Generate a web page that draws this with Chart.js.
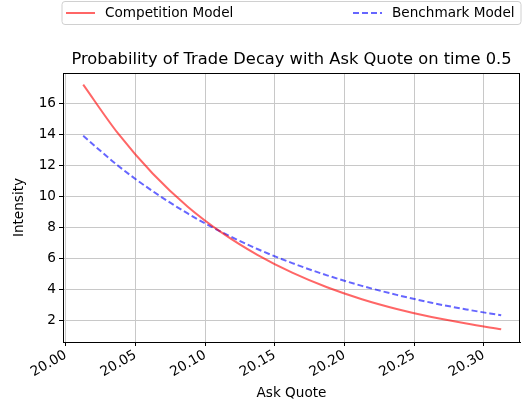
<!DOCTYPE html>
<html>
<head>
<meta charset="utf-8">
<script src="https://cdn.jsdelivr.net/npm/chart.js@4"></script>
<style>
  html, body { margin: 0; padding: 0; background: #fff; }
  #wrap { width: 522px; height: 410px; position: relative; }
</style>
</head>
<body>
<div id="wrap"><canvas id="chart"></canvas></div>
<script>
// values
var askQuote = [20.0125, 20.0375, 20.0625, 20.0875, 20.1125, 20.1375, 20.1625,
                20.1875, 20.2125, 20.2375, 20.2625, 20.2875, 20.3125];
var competition = [17.20, 14.05, 11.45, 9.33, 7.62, 6.22, 5.07, 4.13, 3.36, 2.73, 2.21, 1.79, 1.42];
var benchmark = [13.90, 11.97, 10.32, 8.89, 7.66, 6.60, 5.69, 4.90, 4.22, 3.64, 3.13, 2.70, 2.32];
var xTicks = [20.00, 20.05, 20.10, 20.15, 20.20, 20.25, 20.30];
var yTicks = [2, 4, 6, 8, 10, 12, 14, 16];

var titleText = 'Probability of Trade Decay with Ask Quote on time 0.5';
var seriesNames = ['Competition Model', 'Benchmark Model'];
var FONT = '"DejaVu Sans", sans-serif';
var FS = 13.6;

function pts(ys) {
  return askQuote.map(function (x, i) { return { x: x, y: ys[i] }; });
}

// legend, title and top/right spines drawn by hand like matplotlib
var decor = {
  id: 'decor',
  afterDraw: function (chart) {
    var c = chart.ctx, a = chart.chartArea;
    c.save();
    // spines
    c.strokeStyle = '#000';
    c.lineWidth = 1;
    c.strokeRect(a.left + 0.5, a.top + 0.5, a.right - a.left - 1, a.bottom - a.top);
    // title
    c.fillStyle = '#000';
    c.font = '16.3px ' + FONT;
    c.textAlign = 'center';
    c.textBaseline = 'alphabetic';
    c.fillText(titleText, (a.left + a.right) / 2, a.top - 9);
    // legend box
    var lx = a.left - 1, ly = 1.5, lw = a.right - a.left + 2, lh = 23;
    c.beginPath();
    c.roundRect(lx, ly, lw, lh, 3);
    c.fillStyle = 'rgba(255,255,255,0.8)';
    c.fill();
    c.strokeStyle = '#d0d0d0';
    c.stroke();
    c.font = FS + 'px ' + FONT;
    c.textAlign = 'left';
    c.textBaseline = 'middle';
    var my = ly + lh / 2;
    // red entry
    c.strokeStyle = 'rgba(255,0,0,0.6)';
    c.lineWidth = 2;
    c.beginPath(); c.moveTo(66, my); c.lineTo(95, my); c.stroke();
    c.fillStyle = '#000';
    c.fillText(seriesNames[0], 105, my);
    // blue entry
    c.strokeStyle = 'rgba(0,0,255,0.6)';
    c.setLineDash([6, 3]);
    c.beginPath(); c.moveTo(353, my); c.lineTo(382, my); c.stroke();
    c.setLineDash([]);
    c.fillText(seriesNames[1], 392, my);
    c.restore();
  }
};

var ctx = document.getElementById('chart').getContext('2d');
var myChart = new Chart(ctx, {
  type: 'line',
  data: {
    datasets: [
      {
        label: seriesNames[0],
        data: pts(competition),
        borderColor: 'rgba(255,0,0,0.6)',
        borderWidth: 2,
        pointRadius: 0,
        cubicInterpolationMode: 'monotone',
        fill: false
      },
      {
        label: seriesNames[1],
        data: pts(benchmark),
        borderColor: 'rgba(0,0,255,0.6)',
        borderWidth: 2,
        borderDash: [6, 3],
        pointRadius: 0,
        cubicInterpolationMode: 'monotone',
        fill: false
      }
    ]
  },
  options: {
    responsive: true,
    maintainAspectRatio: false,
    animation: false,
    layout: { padding: { top: 73, right: 2, left: 0, bottom: 0 } },
    plugins: {
      legend: { display: false },
      title: { display: false },
      tooltip: { enabled: false }
    },
    scales: {
      x: {
        type: 'linear',
        min: 19.998,
        max: 20.326,
        afterBuildTicks: function (s) { s.ticks = xTicks.map(function (v) { return { value: v }; }); },
        afterFit: function (s) { s.height = 68; },
        grid: { color: '#c8c8c8', tickColor: '#000', tickLength: 4 },
        border: { color: '#000' },
        ticks: {
          minRotation: 30,
          maxRotation: 30,
          color: '#000',
          font: { family: FONT, size: FS },
          padding: 1,
          callback: function (v) { return v.toFixed(2); }
        },
        title: {
          display: true,
          text: 'Ask Quote',
          color: '#000',
          font: { family: FONT, size: FS },
          padding: { top: 0, bottom: 8 }
        }
      },
      y: {
        min: 0.6,
        max: 17.95,
        afterBuildTicks: function (s) { s.ticks = yTicks.map(function (v) { return { value: v }; }); },
        afterFit: function (s) { s.width = 63; },
        grid: { color: '#c8c8c8', tickColor: '#000', tickLength: 4 },
        border: { color: '#000' },
        ticks: {
          color: '#000',
          font: { family: FONT, size: FS },
          padding: 3
        },
        title: {
          display: true,
          text: 'Intensity',
          color: '#000',
          font: { family: FONT, size: FS },
          padding: { top: 11, bottom: 0 }
        }
      }
    }
  },
  plugins: [decor]
});
</script>
</body>
</html>
